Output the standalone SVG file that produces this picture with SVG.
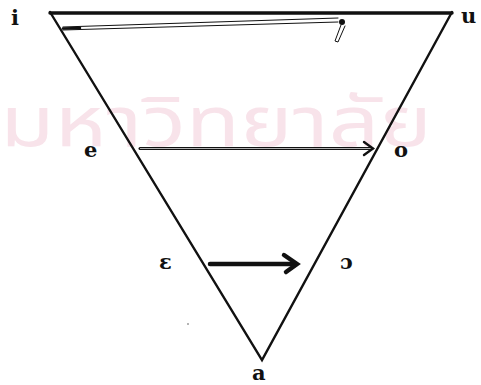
<svg xmlns="http://www.w3.org/2000/svg" width="481" height="385" viewBox="0 0 481 385">
<defs>
<style>
.lbl{font-family:"DejaVu Serif","Liberation Serif",serif;font-weight:bold;fill:#111;font-size:21px;}
.wm{font-family:"Noto Sans Thai","Noto Sans","DejaVu Sans",sans-serif;fill:#f8e3ea;}
.edge{stroke:#111;fill:none;stroke-linecap:round;}
</style>
</defs>
<rect width="481" height="385" fill="#fff"/>
<text class="wm" x="0" y="146" font-size="70" textLength="432" lengthAdjust="spacingAndGlyphs">มหาวิทยาลัย</text>
<g id="triangle">
<path class="edge" d="M50,13 L452,13" stroke-width="3.4"/>
<path class="edge" d="M50,12 L262,360 L452,12" stroke-width="2.4"/>
</g>
<g id="connectors">
<g id="arrow-i-u">
<path class="edge" d="M63,27 L338,18" stroke-width="1"/>
<path class="edge" d="M63,30 L338,22" stroke-width="1"/>
<path class="edge" d="M63,28.5 L80,28" stroke-width="2.5"/>
<circle cx="342" cy="22" r="3" fill="#111"/>
<path class="edge" d="M341,25 L335,41 L338,42 L345,26" stroke-width="1"/>
</g>
<g id="arrow-e-o">
<path class="edge" d="M140,148.5 L372,148.5" stroke-width="3" stroke="#333"/>
<path d="M140,148.5 L372,148.5" stroke="#ddd" stroke-width="0.8"/>
<path class="edge" d="M364,142 L373,148.5 L364,155" stroke-width="2.4"/>
</g>
<g id="arrow-eps-open-o">
<path class="edge" d="M210,264 L296,264" stroke-width="4.5"/>
<path class="edge" d="M284,255 L297,264 L286,272" stroke-width="4.5"/>
</g>
</g>
<g id="node-i"><text class="lbl" x="11" y="25">i</text></g>
<g id="node-u"><text class="lbl" x="461" y="23">u</text></g>
<g id="node-e"><text class="lbl" x="84" y="157">e</text></g>
<g id="node-o"><text class="lbl" x="394" y="157">o</text></g>
<g id="node-eps"><text class="lbl" x="159" y="269">ε</text></g>
<g id="node-open-o"><text class="lbl" x="340" y="269">ɔ</text></g>
<g id="node-a"><text class="lbl" x="252" y="380">a</text></g>
<circle cx="188" cy="324" r="0.8" fill="#555"/>
</svg>
